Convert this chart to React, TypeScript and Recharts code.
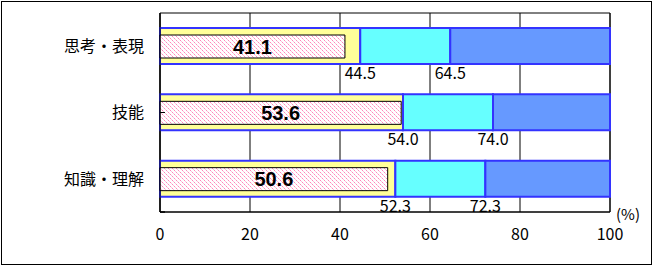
import React from "react";
import {
  BarChart,
  Bar,
  XAxis,
  YAxis,
  CartesianGrid,
  LabelList,
  ReferenceArea,
  ReferenceLine,
} from "recharts";

const categories = ["思考・表現", "技能", "知識・理解"];
const scores = [41.1, 53.6, 50.6];
const lowerBounds = [44.5, 54.0, 52.3];
const upperBounds = [64.5, 74.0, 72.3];
const xTicks = [0, 20, 40, 60, 80, 100];
const separators = [1, 2];

const data = categories.map((name, i) => ({
  name,
  score: scores[i],
  lower: lowerBounds[i],
  upper: upperBounds[i],
  low: lowerBounds[i],
  mid: upperBounds[i] - lowerBounds[i],
  high: 100 - upperBounds[i],
}));

const JP = '"Noto Sans CJK JP", sans-serif';
const EDGE = "#3333FF";

const BoundLabel = (props: any) => {
  const { x, y, width, height, value } = props;
  return (
    <text
      x={x + width}
      y={y + height + 15}
      textAnchor="middle"
      fontSize={16}
      fontFamily={JP}
      fill="#000"
    >
      {Number(value).toFixed(1)}
    </text>
  );
};

export default function App() {
  return (
    <div style={{ position: "absolute", left: 0, top: 0, width: 653, height: 266, background: "#fff" }}>
      <div
        style={{
          position: "absolute",
          left: 1,
          top: 1,
          width: 651,
          height: 264,
          border: "1px solid #000",
          boxSizing: "border-box",
        }}
      />
      <BarChart
        width={653}
        height={266}
        data={data}
        layout="vertical"
        margin={{ top: 13, right: 43, bottom: 24, left: 0 }}
        style={{ position: "absolute", left: 0, top: 0 }}
      >
        <defs>
          <pattern id="hatch" width="4" height="4" patternUnits="userSpaceOnUse">
            <rect width="4" height="4" fill="#fff" />
            <rect x="0" y="0" width="1" height="1" fill="#FF88BB" shapeRendering="crispEdges" />
            <rect x="2" y="2" width="1" height="1" fill="#FF88BB" shapeRendering="crispEdges" />
            <rect x="1" y="1" width="1" height="1" fill="#FFC0DD" shapeRendering="crispEdges" />
            <rect x="3" y="3" width="1" height="1" fill="#FFC0DD" shapeRendering="crispEdges" />
          </pattern>
        </defs>
        <CartesianGrid horizontal={false} stroke="#000" strokeOpacity={1} yAxisId="cat" />
        <XAxis
          type="number"
          domain={[0, 100]}
          ticks={xTicks}
          axisLine={{ stroke: "#000" }}
          tickLine={false}
          tickSize={6}
          tickMargin={11}
          tick={{ fill: "#000", fontSize: 16, fontFamily: JP }}
          interval={0}
        />
        <YAxis
          yAxisId="cat"
          type="category"
          dataKey="name"
          width={160}
          axisLine={{ stroke: "#000" }}
          tickLine={false}
          tickSize={6}
          tickMargin={10}
          tick={{ fill: "#000", fontSize: 16, fontFamily: JP }}
        />
        <YAxis yAxisId="over" type="category" dataKey="name" hide />
        <YAxis
          yAxisId="sep"
          type="number"
          domain={[0, 3]}
          ticks={separators}
          allowDataOverflow
          mirror
          axisLine={false}
          tickSize={5}
          tickLine={{ stroke: "#000" }}
          tickFormatter={() => ""}
        />
        {separators.map((s) => (
          <ReferenceLine
            key={s}
            yAxisId="sep"
            segment={[
              { x: 0, y: s },
              { x: 1.1, y: s },
            ]}
            stroke="#000"
            strokeWidth={1}
          />
        ))}
        <ReferenceArea x1={0} x2={100} yAxisId="cat" fill="none" stroke="#000" strokeWidth={1} />
        <Bar dataKey="low" stackId="s" yAxisId="cat" fill="#FFFF99" stroke={EDGE} strokeWidth={2} barSize={36} isAnimationActive={false}>
          <LabelList dataKey="lower" content={BoundLabel} />
        </Bar>
        <Bar dataKey="mid" stackId="s" yAxisId="cat" fill="#66FFFF" stroke={EDGE} strokeWidth={2} barSize={36} isAnimationActive={false}>
          <LabelList dataKey="upper" content={BoundLabel} />
        </Bar>
        <Bar dataKey="high" stackId="s" yAxisId="cat" fill="#6699FF" stroke={EDGE} strokeWidth={2} barSize={36} isAnimationActive={false} />
        <Bar dataKey="score" yAxisId="over" fill="url(#hatch)" stroke="#000" strokeWidth={1} barSize={23} isAnimationActive={false}>
          <LabelList
            dataKey="score"
            position="center"
            formatter={(v: any) => Number(v).toFixed(1)}
            style={{ fill: "#000", fontSize: 20, fontWeight: "bold", fontFamily: '"Liberation Sans", Arial, sans-serif' }}
          />
        </Bar>
      </BarChart>
      <div
        style={{
          position: "absolute",
          left: 616,
          top: 205,
          fontSize: 15,
          fontFamily: JP,
          lineHeight: "18px",
          color: "#000",
        }}
      >
        (%)
      </div>
    </div>
  );
}
